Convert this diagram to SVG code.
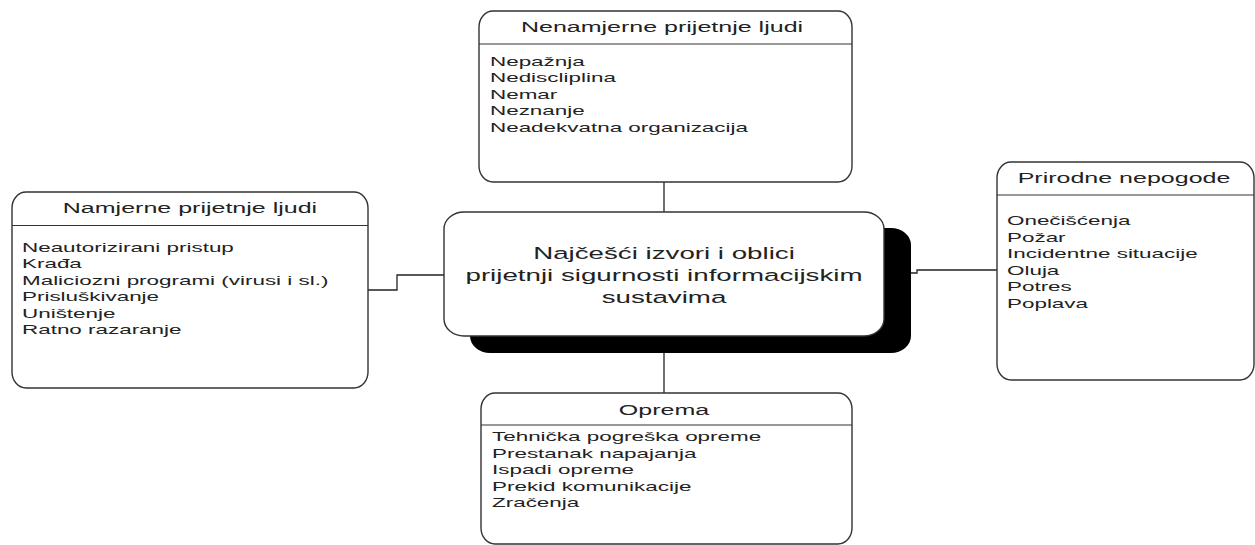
<svg xmlns="http://www.w3.org/2000/svg" width="1255" height="545" viewBox="0 0 1255 545">
<style>
.box{fill:#fff;stroke:#333;stroke-width:1.4}
.div{stroke:#333;stroke-width:1.2}
.conn{fill:none;stroke:#222;stroke-width:1.3}
.title{font-family:"Liberation Sans",Arial,sans-serif;font-size:14.8px;fill:#222;text-anchor:middle}
.body{font-family:"Liberation Sans",Arial,sans-serif;font-size:13.2px;fill:#222}
.center{font-family:"Liberation Sans",Arial,sans-serif;font-size:16.3px;fill:#222;text-anchor:middle}
</style>
<rect width="1255" height="545" fill="#fff"/>
<g id="connectors">
<path class="conn" d="M664,182 V212"/>
<path class="conn" d="M664,336 V393"/>
<path class="conn" d="M368,290 H397 V275 H444"/>
<path class="conn" d="M911,273 H917 V270 H997"/>
</g>
<g id="node-top">
<rect class="box" x="479" y="11" width="373" height="171" rx="14" ry="16"/>
<line class="div" x1="479" y1="44" x2="852" y2="44"/>
<text class="title" transform="translate(662,0) scale(1.69,1)" x="0" y="32.5">Nenamjerne prijetnje ljudi</text>
<g transform="translate(490,0) scale(1.7,1)">
<text class="body" x="0" y="65.7">Nepažnja</text>
<text class="body" x="0" y="82.3">Nediscliplina</text>
<text class="body" x="0" y="98.8">Nemar</text>
<text class="body" x="0" y="115.3">Neznanje</text>
<text class="body" x="0" y="131.8">Neadekvatna organizacija</text>
</g>
</g>
<g id="node-center">
<rect x="470" y="228" width="441" height="125" rx="20" ry="17" fill="#000"/>
<rect class="box" x="444" y="212" width="440" height="124" rx="20" ry="17"/>
<text class="center" transform="translate(664,0) scale(1.7,1)" x="0" y="259">Najčešći izvori i oblici</text>
<text class="center" transform="translate(664,0) scale(1.7,1)" x="0" y="281">prijetnji sigurnosti informacijskim</text>
<text class="center" transform="translate(664,0) scale(1.7,1)" x="0" y="303">sustavima</text>
</g>
<g id="node-left">
<rect class="box" x="12" y="192" width="356" height="196" rx="14" ry="16"/>
<line class="div" x1="12" y1="225.5" x2="368" y2="225.5"/>
<text class="title" transform="translate(190,0) scale(1.69,1)" x="0" y="213">Namjerne prijetnje ljudi</text>
<g transform="translate(22,0) scale(1.7,1)">
<text class="body" x="0" y="251.7">Neautorizirani pristup</text>
<text class="body" x="0" y="268.2">Krađa</text>
<text class="body" x="0" y="284.7">Maliciozni programi (virusi i sl.)</text>
<text class="body" x="0" y="301.2">Prisluškivanje</text>
<text class="body" x="0" y="317.7">Uništenje</text>
<text class="body" x="0" y="334.2">Ratno razaranje</text>
</g>
</g>
<g id="node-right">
<rect class="box" x="997" y="162" width="257" height="218" rx="14" ry="16"/>
<line class="div" x1="997" y1="195" x2="1254" y2="195"/>
<text class="title" transform="translate(1124,0) scale(1.69,1)" x="0" y="183">Prirodne nepogode</text>
<g transform="translate(1007,0) scale(1.7,1)">
<text class="body" x="0" y="225">Onečišćenja</text>
<text class="body" x="0" y="241.6">Požar</text>
<text class="body" x="0" y="258.2">Incidentne situacije</text>
<text class="body" x="0" y="274.8">Oluja</text>
<text class="body" x="0" y="291.4">Potres</text>
<text class="body" x="0" y="308">Poplava</text>
</g>
</g>
<g id="node-bottom">
<rect class="box" x="481" y="393" width="371" height="151" rx="14" ry="16"/>
<line class="div" x1="481" y1="425" x2="852" y2="425"/>
<text class="title" transform="translate(664,0) scale(1.69,1)" x="0" y="415">Oprema</text>
<g transform="translate(492,0) scale(1.7,1)">
<text class="body" x="0" y="441">Tehnička pogreška opreme</text>
<text class="body" x="0" y="457.6">Prestanak napajanja</text>
<text class="body" x="0" y="474.2">Ispadi opreme</text>
<text class="body" x="0" y="490.8">Prekid komunikacije</text>
<text class="body" x="0" y="507.4">Zračenja</text>
</g>
</g>
</svg>
